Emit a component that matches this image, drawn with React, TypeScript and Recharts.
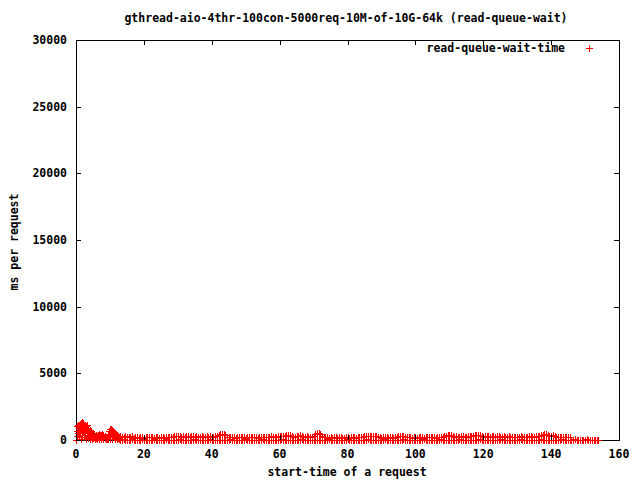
import { ScatterChart, Scatter, XAxis, YAxis, ReferenceArea, Legend } from 'recharts';

// start-time (s), ms -- the initial burst, several levels per instant
const burst = [
  [0, 0], [0.3, 1050], [0.3, 700], [0.3, 300], [0.6, 1100], [0.6, 500],
  [0.9, 1000], [0.9, 800], [0.9, 200], [1.2, 1200], [1.2, 600],
  [1.5, 1300], [1.5, 900], [1.5, 100], [1.8, 1350], [1.8, 1000], [1.8, 400],
  [2.1, 1250], [2.1, 700], [2.4, 1100], [2.4, 850], [2.4, 200], [2.7, 1000], [2.7, 500],
  [3.0, 1050], [3.0, 750], [3.0, 100], [3.3, 1100], [3.3, 400],
  [3.6, 900], [3.6, 600], [3.6, 150], [3.9, 700], [3.9, 300],
  [4.2, 750], [4.2, 450], [4.2, 50], [4.5, 650], [4.5, 250],
  [4.8, 550], [4.8, 300], [4.8, 100], [5.1, 450], [5.1, 150], [5.4, 350], [5.4, 200],
  [5.7, 300], [5.7, 50], [6.0, 350], [6.0, 150], [6.3, 300], [6.3, 100],
  [6.6, 400], [6.6, 200], [6.9, 450], [6.9, 50], [7.2, 400], [7.2, 250],
  [7.5, 380], [7.5, 100], [7.8, 420], [7.8, 200], [8.1, 350], [8.1, 50],
  [8.4, 300], [8.4, 150], [8.7, 200], [8.7, 50], [9.0, 150], [9.0, 100],
  [9.3, 450], [9.3, 50], [9.6, 650], [9.6, 300], [9.9, 800], [9.9, 450], [9.9, 100],
  [10.2, 825], [10.2, 550], [10.5, 750], [10.5, 300], [10.5, 50], [10.8, 700], [10.8, 400],
  [11.1, 600], [11.1, 200], [11.4, 500], [11.4, 100], [11.7, 400], [11.7, 250],
  [12.0, 350], [12.0, 50], [12.3, 300], [12.3, 150], [12.6, 250], [12.6, 50], [12.9, 280], [12.9, 100],
];

// start-time (s), upper ms, lower ms -- the long steady band
const steady = [
  [13, 280, 20], [13.5, 220, 0], [14, 250, 40], [14.5, 300, 10], [15, 200, 30], [15.5, 260, 0],
  [16, 230, 20], [16.5, 290, 50], [17, 180, 10], [17.5, 220, 0], [18, 200, 30], [18.5, 170, 10],
  [19, 240, 0], [19.5, 210, 40], [20, 180, 20], [20.5, 230, 0], [21, 200, 10], [21.5, 260, 30],
  [22, 190, 0], [22.5, 220, 20], [23, 170, 50], [23.5, 240, 10], [24, 200, 0], [24.5, 180, 30],
  [25, 230, 10], [25.5, 210, 0], [26, 160, 20], [26.5, 200, 40], [27, 250, 0], [27.5, 190, 10],
  [28, 220, 30], [28.5, 260, 0], [29, 300, 20], [29.5, 320, 10], [30, 280, 0], [30.5, 310, 40],
  [31, 260, 10], [31.5, 290, 0], [32, 240, 20], [32.5, 300, 30], [33, 270, 0], [33.5, 250, 10],
  [34, 310, 20], [34.5, 280, 0], [35, 240, 40], [35.5, 300, 10], [36, 260, 0], [36.5, 230, 20],
  [37, 290, 30], [37.5, 250, 0], [38, 220, 10], [38.5, 270, 20], [39, 240, 0], [39.5, 300, 50],
  [40, 260, 10], [40.5, 230, 0], [41, 280, 20], [41.5, 310, 10], [42, 350, 0], [42.5, 420, 30],
  [43, 475, 10], [43.5, 440, 0], [44, 350, 20], [44.5, 260, 10], [45, 220, 0], [45.5, 250, 40],
  [46, 200, 10], [46.5, 230, 0], [47, 180, 20], [47.5, 250, 30], [48, 210, 0], [48.5, 190, 10],
  [49, 240, 20], [49.5, 200, 0], [50, 170, 40], [50.5, 230, 10], [51, 260, 0], [51.5, 210, 20],
  [52, 190, 10], [52.5, 240, 0], [53, 220, 30], [53.5, 180, 10], [54, 250, 0], [54.5, 230, 20],
  [55, 200, 40], [55.5, 260, 0], [56, 220, 10], [56.5, 190, 20], [57, 240, 0], [57.5, 270, 30],
  [58, 230, 10], [58.5, 210, 0], [59, 260, 20], [59.5, 280, 10], [60, 300, 0], [60.5, 270, 40],
  [61, 320, 10], [61.5, 290, 0], [62, 350, 20], [62.5, 400, 10], [63, 360, 0], [63.5, 300, 30],
  [64, 260, 10], [64.5, 240, 0], [65, 280, 20], [65.5, 320, 10], [66, 350, 0], [66.5, 300, 40],
  [67, 250, 10], [67.5, 230, 0], [68, 270, 20], [68.5, 240, 10], [69, 220, 0], [69.5, 260, 30],
  [70, 300, 10], [70.5, 420, 0], [71, 500, 20], [71.5, 525, 10], [72, 450, 0], [72.5, 320, 30],
  [73, 240, 10], [73.5, 200, 0], [74, 230, 20], [74.5, 180, 40], [75, 210, 0], [75.5, 170, 10],
  [76, 220, 20], [76.5, 190, 0], [77, 160, 30], [77.5, 210, 10], [78, 230, 0], [78.5, 180, 20],
  [79, 150, 10], [79.5, 200, 0], [80, 220, 40], [80.5, 170, 10], [81, 190, 0], [81.5, 230, 20],
  [82, 200, 10], [82.5, 160, 0], [83, 210, 30], [83.5, 240, 10], [84, 190, 0], [84.5, 220, 20],
  [85, 270, 10], [85.5, 300, 0], [86, 280, 40], [86.5, 320, 10], [87, 290, 0], [87.5, 310, 20],
  [88, 270, 30], [88.5, 300, 0], [89, 240, 10], [89.5, 200, 20], [90, 180, 0], [90.5, 220, 10],
  [91, 250, 40], [91.5, 200, 0], [92, 170, 20], [92.5, 230, 10], [93, 210, 0], [93.5, 180, 30],
  [94, 240, 10], [94.5, 260, 0], [95, 280, 20], [95.5, 310, 10], [96, 330, 0], [96.5, 280, 40],
  [97, 230, 10], [97.5, 200, 0], [98, 250, 20], [98.5, 220, 10], [99, 180, 0], [99.5, 230, 30],
  [100, 200, 10], [100.5, 170, 0], [101, 220, 20], [101.5, 250, 10], [102, 200, 0], [102.5, 180, 40],
  [103, 230, 10], [103.5, 260, 0], [104, 210, 20], [104.5, 190, 30], [105, 240, 0], [105.5, 220, 10],
  [106, 180, 20], [106.5, 230, 0], [107, 260, 10], [107.5, 210, 40], [108, 240, 0], [108.5, 280, 20],
  [109, 320, 10], [109.5, 360, 0], [110, 380, 30], [110.5, 340, 10], [111, 270, 0], [111.5, 240, 20],
  [112, 280, 10], [112.5, 250, 0], [113, 220, 40], [113.5, 270, 10], [114, 300, 0], [114.5, 260, 20],
  [115, 240, 10], [115.5, 290, 0], [116, 310, 30], [116.5, 270, 10], [117, 300, 0], [117.5, 340, 20],
  [118, 380, 10], [118.5, 400, 0], [119, 350, 40], [119.5, 290, 10], [120, 260, 0], [120.5, 300, 20],
  [121, 320, 10], [121.5, 280, 0], [122, 250, 30], [122.5, 300, 10], [123, 270, 0], [123.5, 240, 20],
  [124, 290, 10], [124.5, 310, 0], [125, 260, 40], [125.5, 230, 10], [126, 280, 0], [126.5, 250, 20],
  [127, 220, 10], [127.5, 270, 0], [128, 240, 30], [128.5, 210, 10], [129, 260, 0], [129.5, 230, 20],
  [130, 200, 10], [130.5, 250, 0], [131, 280, 40], [131.5, 240, 10], [132, 210, 0], [132.5, 260, 20],
  [133, 230, 10], [133.5, 270, 0], [134, 300, 30], [134.5, 260, 10], [135, 240, 0], [135.5, 280, 20],
  [136, 320, 10], [136.5, 300, 0], [137, 350, 40], [137.5, 400, 10], [138, 450, 0], [138.5, 430, 20],
  [139, 340, 10], [139.5, 280, 0], [140, 320, 30], [140.5, 380, 10], [141, 300, 0], [141.5, 250, 20],
  [142, 220, 10], [142.5, 260, 0], [143, 230, 40], [143.5, 200, 10], [144, 250, 0], [144.5, 220, 20],
  [145, 190, 10], [145.5, 230, 0],
];

// start-time (s), ms -- the last requests, near zero
const tail = [
  [146, 20], [146.5, 0], [147, 40], [147.5, 10], [148, 0], [148.5, 30], [149, 10], [149.5, 0],
  [150, 20], [150.5, 40], [151, 0], [151.5, 10], [152, 30], [152.5, 0], [153, 20], [153.5, 10], [153.8, 0],
];

const xTicks = [0, 20, 40, 60, 80, 100, 120, 140, 160];
const yTicks = [0, 5000, 10000, 15000, 20000, 25000, 30000];

const points = [
  ...burst.map(([t, ms]) => ({ t, ms })),
  ...steady.flatMap(([t, hi, lo]) => [{ t, ms: hi }, { t, ms: lo }]),
  ...tail.map(([t, ms]) => ({ t, ms })),
];

const RED = '#ff0000';
const FONT = 'DejaVu Sans Mono, monospace';
const PLOT_LEFT = 76;
const PLOT_RIGHT = 619;
const PLOT_TOP = 40;
const PLOT_BOTTOM = 440;
const TIC = 5;

const txt = { fontFamily: FONT, fontSize: 11.5, fontWeight: 'bold' as const, fill: '#000' };

function Plus({ cx, cy }: { cx?: number; cy?: number }) {
  if (cx == null || cy == null) return null;
  const x = Math.round(cx) + 0.5;
  const y = Math.round(cy) + 0.5;
  return <path d={`M${x - 3.5},${y}H${x + 3.5}M${x},${y - 3.5}V${y + 3.5}`} stroke={RED} strokeWidth={1} fill="none" />;
}

function XTick({ x, payload }: { x?: number; payload?: { value: number } }) {
  const px = Math.round(x ?? 0) + 0.5;
  return (
    <g>
      <line x1={px} x2={px} y1={PLOT_BOTTOM} y2={PLOT_BOTTOM - TIC} stroke="#000" />
      <line x1={px} x2={px} y1={PLOT_TOP} y2={PLOT_TOP + TIC} stroke="#000" />
      <text x={x} y={PLOT_BOTTOM + 14} textAnchor="middle" dominantBaseline="central" {...txt}>{payload?.value}</text>
    </g>
  );
}

function YTick({ y, payload }: { y?: number; payload?: { value: number } }) {
  const py = Math.round(y ?? 0) + 0.5;
  return (
    <g>
      <line x1={PLOT_LEFT} x2={PLOT_LEFT + TIC} y1={py} y2={py} stroke="#000" />
      <line x1={PLOT_RIGHT} x2={PLOT_RIGHT - TIC} y1={py} y2={py} stroke="#000" />
      <text x={67} y={y} textAnchor="end" dominantBaseline="central" {...txt}>{payload?.value}</text>
    </g>
  );
}

function KeyBox() {
  return (
    <svg width={640} height={16} style={{ display: 'block' }}>
      <text x={565} y={8} textAnchor="end" dominantBaseline="central" {...txt}>read-queue-wait-time</text>
      <path d="M586,8.5H593M589.5,5V12" stroke={RED} strokeWidth={1} fill="none" />
    </svg>
  );
}

export default function App() {
  return (
    <div style={{ position: 'absolute', left: 0, top: 0, background: '#fff' }}>
      <ScatterChart width={640} height={480} margin={{ top: PLOT_TOP, right: 640 - PLOT_RIGHT, bottom: 0, left: 0 }}>
        <XAxis
          type="number"
          dataKey="t"
          domain={[0, 160]}
          ticks={xTicks}
          height={480 - PLOT_BOTTOM}
          tick={<XTick />}
          tickLine={false}
          axisLine={false}
          interval={0}
        />
        <YAxis
          type="number"
          dataKey="ms"
          domain={[0, 30000]}
          ticks={yTicks}
          width={PLOT_LEFT}
          tick={<YTick />}
          tickLine={false}
          axisLine={false}
          interval={0}
        />
        <Scatter name="read-queue-wait-time" data={points} shape={<Plus />} isAnimationActive={false} />
        <ReferenceArea x1={0} x2={160} y1={0} y2={30000} fill="none" stroke="#000" strokeWidth={1} shapeRendering="crispEdges" />
        <Legend
          layout="horizontal"
          verticalAlign="middle"
          align="center"
          content={<KeyBox />}
          wrapperStyle={{ top: 40, left: 0, width: 640 }}
        />
        <text x={346} y={18} textAnchor="middle" dominantBaseline="central" {...txt}>
          gthread-aio-4thr-100con-5000req-10M-of-10G-64k (read-queue-wait)
        </text>
        <text x={347} y={472} textAnchor="middle" dominantBaseline="central" {...txt}>start-time of a request</text>
        <text x={14} y={242} textAnchor="middle" dominantBaseline="central" transform="rotate(-90 14 242)" {...txt}>ms per request</text>
      </ScatterChart>
    </div>
  );
}
